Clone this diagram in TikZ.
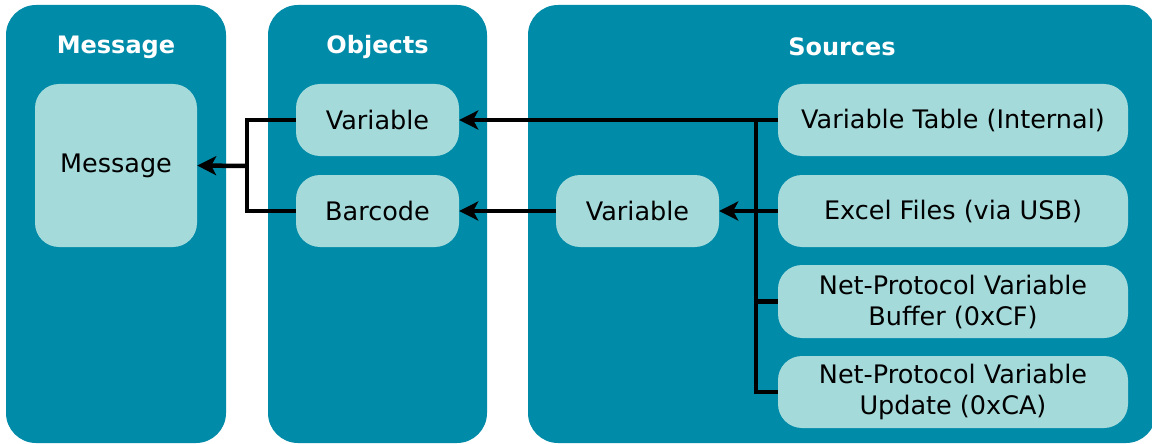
\documentclass[tikz,border=0pt]{standalone}
\usepackage{fontspec}
\setmainfont{DejaVu Sans}
\usetikzlibrary{arrows.meta}
\definecolor{panel}{RGB}{0,139,169}
\definecolor{inner}{RGB}{165,218,219}
\begin{document}
\begin{tikzpicture}[x=1pt,y=-1pt,
  panelbox/.style={fill=panel, rounded corners=30pt},
  box/.style={fill=inner, rounded corners=24pt, inner sep=0pt, align=center,
    font=\fontsize{25.5}{31}\selectfont, text=black},
  head/.style={text=white, inner sep=0pt, font=\bfseries\fontsize{24}{29}\selectfont},
  conn/.style={line width=4.5pt},
  arr/.style={conn, -{Stealth[length=19pt,width=19pt,inset=5pt]}}]
\useasboundingbox (0,0) rectangle (1152,444);
\begin{scope}
  \clip (0,0) rectangle (1152,444);
  \path[panelbox] (6,5) rectangle (226,443);
  \path[panelbox] (268,5) rectangle (487,443);
  \path[panelbox] (528,5) rectangle (1156,443);
\end{scope}
\node[head] (hm) at (116,47) {Message};
\node[head] (ho) at (377.5,47) {Objects};
\node[head] (hs) at (842,47) {Sources};

\node[box, minimum width=162pt, minimum height=163pt] (msg) at (116,165.5) {Message};
\node[box, minimum width=163pt, minimum height=72pt] (ov) at (377.5,120) {Variable};
\node[box, minimum width=163pt, minimum height=72pt] (bc) at (377.5,211) {Barcode};
\node[box, minimum width=163pt, minimum height=72pt] (sv) at (637.5,211) {Variable};
\node[box, minimum width=350pt, minimum height=72pt] (vt) at (953,120) {Variable Table (Internal)};
\node[box, minimum width=350pt, minimum height=72pt] (ex) at (953,211) {Excel Files (via USB)};
\node[box, minimum width=350pt, minimum height=73pt] (nb) at (953,301.5) {Net-Protocol Variable\\Buffer (0xCF)};
\node[box, minimum width=350pt, minimum height=72pt] (nu) at (953,392) {Net-Protocol Variable\\Update (0xCA)};

\coordinate (j1) at (756,120);
\coordinate (j2) at (247,166);

\draw[arr] (vt.west) -- (ov.east);
\draw[conn] (j1) |- (nb.west);
\draw[conn] ([yshift=-2pt]j1) |- (nu.west);
\draw[arr] (ex.west) -- (sv.east);
\draw[arr] (sv.west) -- (bc.east);
\draw[conn] (ov.west) -| (j2);
\draw[conn] (bc.west) -| (j2);
\draw[arr] (j2) -- (msg.east);
\end{tikzpicture}
\end{document}
